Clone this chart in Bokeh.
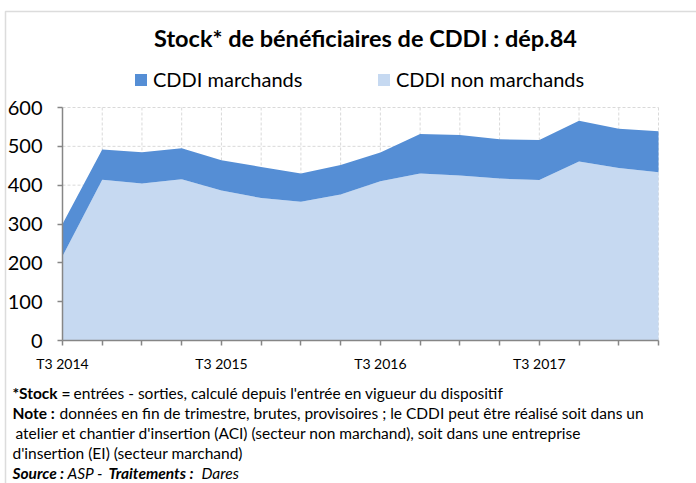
from bokeh.plotting import figure
from bokeh.models import (Range1d, FixedTicker, Label, Legend, LegendItem,
                          BoxAnnotation, ColumnDataSource)
from bokeh.embed import file_html
from bokeh.resources import INLINE

# ---- data -------------------------------------------------------------
quarters = ["T3 2014", "T4 2014", "T1 2015", "T2 2015", "T3 2015", "T4 2015",
            "T1 2016", "T2 2016", "T3 2016", "T4 2016", "T1 2017", "T2 2017",
            "T3 2017", "T4 2017", "T1 2018", "T2 2018"]
non_marchands = [217, 414, 404, 415, 386, 367, 357, 376, 410, 430, 425, 417,
                 413, 461, 444, 433]
marchands = [83, 78, 81, 80, 78, 80, 73, 76, 74, 102, 104, 101, 103, 105,
             101, 106]
y_ticks = [0, 100, 200, 300, 400, 500, 600]

title_text = "Stock* de bénéficiaires de CDDI : dép.84"
series_names = ["CDDI non marchands", "CDDI marchands"]

# ---- styles / layout --------------------------------------------------
FONT = "Lato"
LIGHT = "#C6D9F1"
DARK = "#558ED5"
AXIS = "#868686"
GRID = "#D9D9D9"
W, H = 696, 483
# pixel box of the plotting area
PX_L, PX_R, PX_T, PX_B = 62, 658, 107, 340

n = len(quarters)
x_lo, x_hi = 0, n - 1
y_lo, y_hi = y_ticks[0], y_ticks[-1]
ppx = (PX_R - PX_L) / (x_hi - x_lo)
ppy = (PX_B - PX_T) / (y_hi - y_lo)

def dx(px):
    return x_lo + (px - PX_L) / ppx

def dy(py):
    return y_lo + (PX_B - py) / ppy

idx = list(range(n))
source = ColumnDataSource(dict(x=idx, non_marchands=non_marchands,
                               marchands=marchands))

p = figure(width=W, height=H, output_backend="svg", toolbar_location=None,
           x_range=Range1d(dx(0), dx(W)), y_range=Range1d(dy(H), dy(0)),
           min_border=0)
p.outline_line_color = None
p.background_fill_color = "white"
p.border_fill_color = "white"
p.grid.visible = False

# gridlines (dashed, under the areas)
p.segment(x0=[x_lo] * (len(y_ticks) - 1), x1=[x_hi] * (len(y_ticks) - 1),
          y0=y_ticks[1:], y1=y_ticks[1:], line_color=GRID,
          line_dash="3 2", line_width=1, level="underlay")
p.segment(x0=idx[1:], x1=idx[1:], y0=[y_lo] * (n - 1), y1=[y_hi] * (n - 1),
          line_color=GRID, line_dash="3 2", line_width=1, level="underlay")

renderers = p.varea_stack(["non_marchands", "marchands"], x="x", source=source,
                          color=[LIGHT, DARK])

# axes
p.xaxis.fixed_location = y_lo
p.yaxis.fixed_location = x_lo
p.xaxis.bounds = (x_lo, x_hi)
p.yaxis.bounds = (y_lo, y_hi)
p.xaxis.ticker = FixedTicker(ticks=idx)
p.xaxis.major_label_overrides = {i: (q if q.startswith("T3") else "")
                                 for i, q in enumerate(quarters)}
p.yaxis.ticker = FixedTicker(ticks=y_ticks)
for ax in (p.xaxis, p.yaxis):
    ax.axis_line_color = AXIS
    ax.axis_line_width = 1.5
    ax.major_tick_line_color = AXIS
    ax.major_tick_line_width = 1.5
    ax.major_tick_out = 5
    ax.major_tick_in = 0
    ax.minor_tick_line_color = None
    ax.major_label_text_color = "black"
    ax.major_label_text_font = FONT
p.yaxis.major_label_text_font_size = "20px"
p.yaxis.major_label_standoff = 15
p.xaxis.major_label_text_font_size = "14px"
p.xaxis.major_label_standoff = 9

# legend (one per item to place them like the original)
def make_legend(label, r, px, py):
    leg = Legend(items=[LegendItem(label=label, renderers=[r])],
                 location=(px, H - py), orientation="horizontal",
                 glyph_width=15, glyph_height=15, label_standoff=5,
                 label_text_font=FONT, label_text_font_size="20px",
                 label_text_color="black",
                 background_fill_alpha=0, border_line_color=None,
                 padding=0, margin=0, spacing=0)
    p.add_layout(leg)

make_legend(series_names[1], renderers[1], 133, 91)
make_legend(series_names[0], renderers[0], 376, 91)

# title
p.add_layout(Label(x=dx(365), y=dy(37), text=title_text, text_align="center",
                   text_baseline="middle", text_font=FONT,
                   text_font_size="23.5px", text_font_style="bold",
                   text_color="black"))

# footnotes
def note(x, y, text, style="normal"):
    p.add_layout(Label(x=dx(x), y=dy(y), text=text, text_align="left",
                       text_baseline="middle", text_font=FONT,
                       text_font_size="15.5px", text_font_style=style,
                       text_color="black"))

note(12, 392, "*Stock =", "bold")
note(73, 392, "entrées - sorties, calculé depuis l'entrée en vigueur du dispositif")
note(12, 412, "Note :", "bold")
note(59, 412, "données en fin de trimestre, brutes, provisoires ; le CDDI peut être réalisé soit dans un")
note(15, 432, "atelier et chantier d'insertion (ACI) (secteur non marchand), soit dans une entreprise")
note(12, 452, "d'insertion (EI) (secteur marchand)")
note(12, 472, "Source :", "bold italic")
note(67, 472, "ASP -", "italic")
note(108, 472, "Traitements :", "bold italic")
note(201, 472, "Dares", "italic")

# chart border
p.add_layout(BoxAnnotation(left=dx(5), right=dx(W + 20), top=dy(11),
                           bottom=dy(H + 20), fill_alpha=0,
                           line_color="#8C8C8C", line_width=1.5))

open("out.html", "w").write(file_html(p, INLINE))
